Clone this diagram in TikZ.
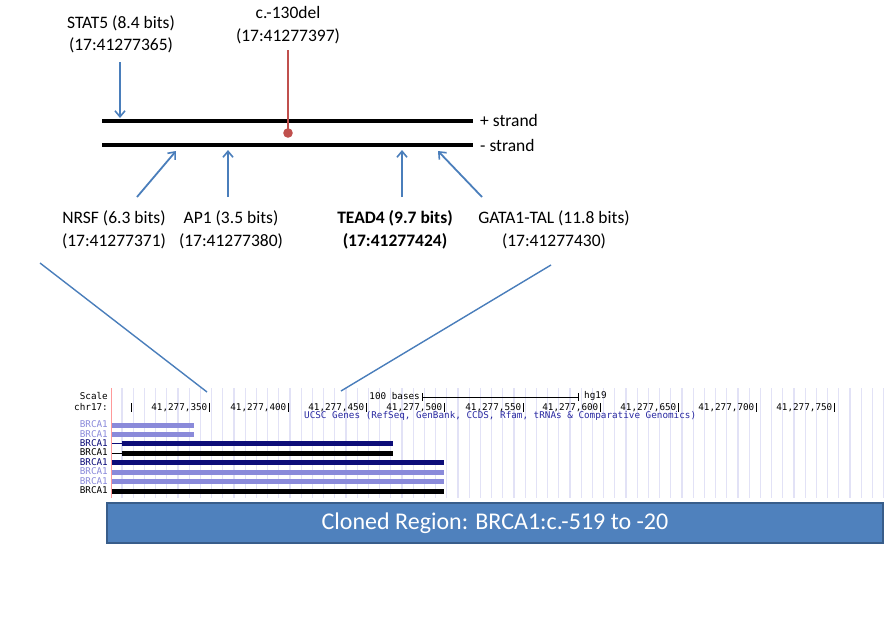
\documentclass[tikz,border=0pt]{standalone}
\usepackage{fontspec}
\setmainfont{Carlito}
\newfontfamily\monof{DejaVu Sans Mono}
\usetikzlibrary{arrows.meta}
\definecolor{arrowblue}{HTML}{4A7EBB}
\definecolor{delred}{HTML}{C0504D}
\definecolor{boxblue}{HTML}{4F81BD}
\definecolor{boxedge}{HTML}{385D8A}
\definecolor{gridlav}{HTML}{E2E2F6}
\definecolor{lightbar}{HTML}{8A8ADA}
\definecolor{navybar}{HTML}{0C0C78}
\definecolor{ucscblue}{HTML}{2828A0}
\tikzset{
  lbl/.style={align=center,inner sep=0pt,font=\fontsize{17.5}{22.5}\selectfont},
  tfarrow/.style={draw=arrowblue,line width=1.8pt,-{Straight Barb[length=6pt,width=10pt,line width=1.6pt]}},
  strandline/.style={draw=black,line width=3.2pt},
  zoomline/.style={draw=arrowblue,line width=1.4pt},
  mono/.style={inner sep=0pt,text height=6.4pt,text depth=0.8pt,font=\monof\fontsize{9.3}{9.5}\selectfont},
  gridline/.style={draw=gridlav,line width=1.3pt},
  genebar/.style={line width=5pt},
  clonebox/.style={draw=boxedge,line width=2pt,fill=boxblue,text=white,
    font=\fontsize{24}{26}\selectfont,inner sep=0pt}
}
\begin{document}
\begin{tikzpicture}[x=1pt,y=-1pt]
\useasboundingbox (0,0) rectangle (892,619);
% ---------- strands ----------
\coordinate (plusL) at (102,121);
\coordinate (plusR) at (473,121);
\coordinate (minusL) at (102,145);
\coordinate (minusR) at (473,145);
\draw[strandline] (plusL) -- (plusR);
\draw[strandline] (minusL) -- (minusR);
\node[lbl,anchor=west] (plustxt) at (480,120) {+ strand};
\node[lbl,anchor=west] (minustxt) at (480,145) {- strand};
% ---------- deletion ----------
\node[lbl] (del) at (288,25) {c.-130del\\(17:41277397)};
\coordinate (deltop) at (288,50);
\coordinate (delbot) at (288,133);
\draw[delred,line width=2.6pt] (deltop) -- (delbot);
\fill[delred] (delbot) circle (4.8);
% ---------- STAT5 ----------
\node[lbl] (stat5) at (121,34.5) {STAT5 (8.4 bits)\\(17:41277365)};
\coordinate (s5a) at (120,62);
\coordinate (s5b) at (120,118);
\draw[tfarrow] (s5a) -- (s5b);
% ---------- lower labels ----------
\node[lbl] (nrsf) at (114,230) {NRSF (6.3 bits)\\(17:41277371)};
\node[lbl] (ap1) at (231,230) {AP1 (3.5 bits)\\(17:41277380)};
\node[lbl,font=\bfseries\fontsize{17.5}{22.5}\selectfont] (tead4) at (395,230) {TEAD4 (9.7 bits)\\(17:41277424)};
\node[lbl] (gata) at (554,230) {GATA1-TAL (11.8 bits)\\(17:41277430)};
\coordinate (nrsfa) at (137,197);
\coordinate (nrsfb) at (176,151);
\coordinate (ap1a) at (228,197);
\coordinate (ap1b) at (228,150);
\coordinate (teada) at (402,197);
\coordinate (teadb) at (402,150);
\coordinate (gataa) at (482,197);
\coordinate (gatab) at (438,151);
\draw[tfarrow] (nrsfa) -- (nrsfb);
\draw[tfarrow] (ap1a) -- (ap1b);
\draw[tfarrow] (teada) -- (teadb);
\draw[tfarrow] (gataa) -- (gatab);
% ---------- zoom lines ----------
\coordinate (zl1) at (40,263);
\coordinate (zl2) at (207,392);
\coordinate (zr1) at (551,265);
\coordinate (zr2) at (341,391);
% ---------- browser grid ----------
\foreach \i in {0,...,68} {
  \draw[gridline] (122+11.2*\i,388) -- (122+11.2*\i,498);
}
\draw[red!40,line width=0.8pt] (111,388) -- (111,498);
\draw[zoomline] (zl1) -- (zl2);
\draw[zoomline] (zr1) -- (zr2);
% scale row
\node[mono,anchor=east] (scale) at (108,397) {Scale};
\node[mono,anchor=east] (chr) at (108,407.5) {chr17:};
\node[mono,anchor=east] (hb) at (420,397) {100 bases};
\coordinate (sbl) at (422,397);
\coordinate (sbr) at (578,397);
\draw[line width=0.8pt] (sbl) -- (sbr);
\draw[line width=0.8pt] (422,393) -- (422,401) (578,393) -- (578,401);
\node[mono,anchor=west] (hg) at (584,396) {hg19};
% ticks
\draw[line width=1pt] (131,403) -- (131,412);
\foreach \x/\t in {209/350,288/400,366/450,444/500,523/550,600/600,678/650,756/700,834/750} {
  \node[mono,anchor=east] at (\x-1.5,407.5) {41,277,\t};
  \draw[line width=1pt] (\x,403) -- (\x,412);
}
\node[mono,anchor=west,text=ucscblue] (ucsc) at (304,416) {UCSC Genes (RefSeq, GenBank, CCDS, Rfam, tRNAs \& Comparative Genomics)};
% genes
\foreach \y/\c in {425/lightbar,434.3/lightbar,443.7/navybar,453/black,462.6/navybar,472/lightbar,481.3/lightbar,491/black} {
  \node[mono,anchor=east,text=\c] at (108,\y) {BRCA1};
}
\draw[genebar,lightbar] (112,425) -- (194,425);
\draw[genebar,lightbar] (112,434.3) -- (194,434.3);
\draw[genebar,navybar] (121.5,443.7) -- (393,443.7);
\draw[line width=1pt,navybar] (112,443.7) -- (121.5,443.7);
\draw[genebar,black] (121.5,453) -- (393,453);
\draw[line width=1pt,black] (112,453) -- (121.5,453);
\draw[genebar,navybar] (112,462.6) -- (444,462.6);
\draw[genebar,lightbar] (112,472) -- (444,472);
\draw[genebar,lightbar] (112,481.3) -- (444,481.3);
\draw[genebar,black] (112,491) -- (444,491);
% ---------- cloned region ----------
\node[clonebox,minimum width=776pt,minimum height=40pt] (clone) at (495,523) {Cloned Region: BRCA1:c.-519 to -20};
\end{tikzpicture}
\end{document}
